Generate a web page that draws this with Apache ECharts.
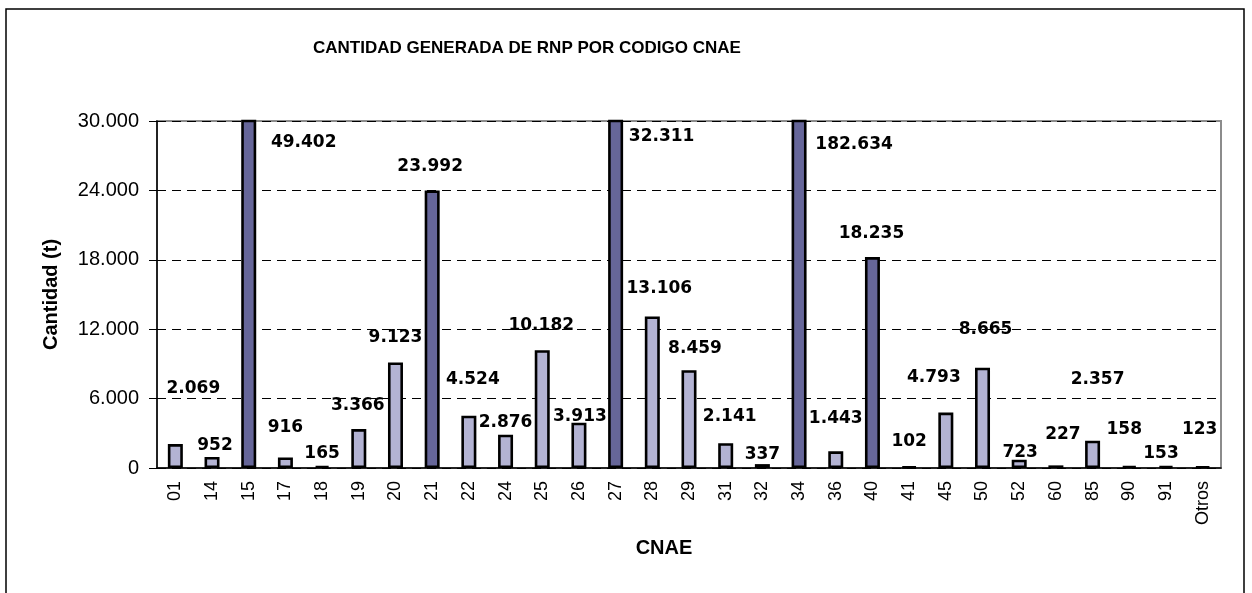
<!DOCTYPE html>
<html>
<head>
<meta charset="utf-8">
<title>Cantidad generada de RNP por codigo CNAE</title>
<script src="https://cdn.jsdelivr.net/npm/echarts@6/dist/echarts.min.js"></script>
<style>
  html, body { margin: 0; padding: 0; background: #fff; }
  #chart { width: 1252px; height: 593px; }
</style>
</head>
<body>
<div id="chart"></div>
<script>
// datos
const cnae = ['01', '14', '15', '17', '18', '19', '20', '21', '22', '24', '25', '26', '27', '28', '29',
  '31', '32', '34', '36', '40', '41', '45', '50', '52', '60', '85', '90', '91', 'Otros']
const cantidad = [2069, 952, 49402, 916, 165, 3366, 9123, 23992, 4524, 2876, 10182, 3913, 32311, 13106, 8459,
  2141, 337, 182634, 1443, 18235, 102, 4793, 8665, 723, 227, 2357, 158, 153, 123]
// codigos destacados en color oscuro
const destacados = ['15', '21', '27', '34', '40']
const yTicks = [0, 6000, 12000, 18000, 24000, 30000]

// desplazamiento de las etiquetas (como en el original de Excel)
const labelShift = [[18, -42], [3, 2], [55, 36], [0, -16], [0, 1], [-1, -10], [0, -11], [-2, -10], [4, -23],
  [0, 1], [-1, -11], [1, 7], [46, 30], [7, -14], [6, -8], [4, -13], [0, 4], [55, 38], [0, -19], [-1, -10],
  [0, -11], [-12, -21], [3, -25], [1, 6], [7, -17], [5, -48], [-5, -23], [-5, 1], [-3, -23]]

const fmt = v => String(v).replace(/\B(?=(\d{3})+(?!\d))/g, '.')

const chart = echarts.init(document.getElementById('chart'))

const option = {
  backgroundColor: '#fff',
  animation: false,
  title: {
    text: 'CANTIDAD GENERADA DE RNP POR CODIGO CNAE',
    left: 313,
    top: 40,
    padding: 0,
    textStyle: {
      fontFamily: 'Liberation Sans',
      fontSize: 17,
      fontWeight: 'bold',
      color: '#000'
    }
  },
  graphic: [{
    type: 'rect',
    shape: { x: 6, y: 9, width: 1238, height: 620 },
    style: { fill: 'none', stroke: '#000', lineWidth: 1.5 }
  }],
  grid: {
    left: 157,
    top: 121,
    right: 31,
    bottom: 125,
    show: true,
    borderColor: '#8c8c8c',
    borderWidth: 2
  },
  xAxis: {
    type: 'category',
    data: cnae,
    name: 'CNAE',
    nameLocation: 'middle',
    nameGap: 70,
    nameTextStyle: {
      fontFamily: 'Liberation Sans',
      fontSize: 20,
      fontWeight: 'bold',
      color: '#000',
      padding: [0, 50, 0, 0]
    },
    axisLine: { lineStyle: { color: '#000', width: 1.5 } },
    axisTick: { length: 6, lineStyle: { color: '#000' } },
    axisLabel: {
      rotate: 90,
      margin: 13,
      interval: 0,
      fontFamily: 'Liberation Sans',
      fontSize: 18,
      color: '#000'
    }
  },
  yAxis: {
    type: 'value',
    min: yTicks[0],
    max: yTicks[yTicks.length - 1],
    interval: yTicks[1] - yTicks[0],
    name: 'Cantidad (t)',
    nameLocation: 'middle',
    nameGap: 96,
    nameTextStyle: {
      fontFamily: 'Liberation Sans',
      fontSize: 20,
      fontWeight: 'bold',
      color: '#000'
    },
    axisLine: { show: true, lineStyle: { color: '#000', width: 1.5 } },
    axisTick: { show: true, length: 8, lineStyle: { color: '#000' } },
    axisLabel: {
      margin: 18,
      fontFamily: 'Liberation Sans',
      fontSize: 20,
      color: '#000',
      formatter: v => fmt(v)
    },
    splitLine: {
      lineStyle: { color: '#000', type: [9, 6], width: 1 }
    }
  },
  series: [{
    type: 'bar',
    barWidth: 15,
    clip: true,
    data: cantidad.map((v, i) => ({
      value: v,
      itemStyle: {
        color: destacados.includes(cnae[i]) ? '#666699' : '#b3b3d3'
      },
      label: { offset: labelShift[i] }
    })),
    itemStyle: { borderColor: '#000', borderWidth: 2.6 },
    label: {
      show: true,
      position: 'top',
      fontFamily: 'DejaVu Sans',
      fontSize: 17,
      fontWeight: 'bold',
      color: '#000',
      formatter: p => fmt(p.value)
    }
  }]
}

chart.setOption(option)
</script>
</body>
</html>
